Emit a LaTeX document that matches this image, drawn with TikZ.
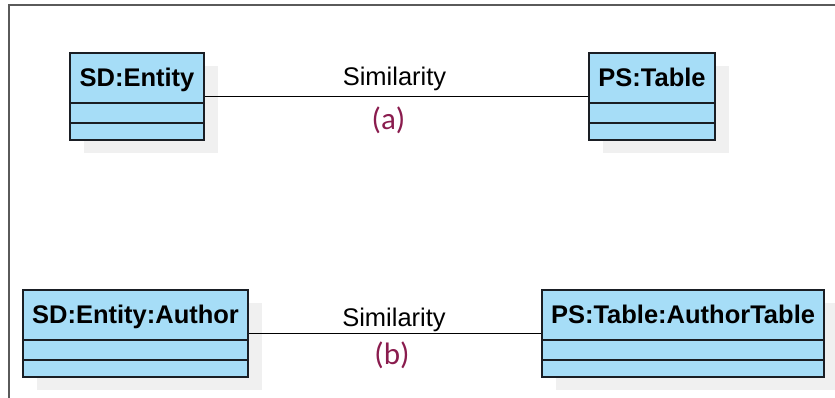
\documentclass[tikz,border=0pt]{standalone}
\usepackage{fontspec}
\setmainfont{Liberation Sans}
\newfontfamily\labfont{Carlito}
\usetikzlibrary{calc,shadows}
\definecolor{boxfill}{RGB}{166,221,247}
\definecolor{boxline}{RGB}{26,30,36}
\definecolor{shadowgray}{RGB}{240,240,240}
\definecolor{labred}{RGB}{138,28,78}
\definecolor{framegray}{RGB}{90,90,90}
\tikzset{
  classbox/.style={draw=boxline, line width=2pt, fill=boxfill, inner sep=0pt,
    minimum height=87pt,
    drop shadow={shadow xshift=14pt, shadow yshift=-13pt, fill=shadowgray, opacity=1}},
  divider/.style={draw=boxline, line width=2pt},
  hdr/.style={font=\bfseries\fontsize{25.5}{30}\selectfont, anchor=base, inner sep=0pt},
  rel/.style={draw=black, line width=1.7pt},
  simlab/.style={font=\fontsize{25.5}{30}\selectfont, anchor=base, inner sep=0pt},
  tag/.style={font=\labfont\fontsize{31}{36}\selectfont, text=labred, inner sep=0pt},
  frame/.style={draw=framegray, line width=1.4pt}
}
\begin{document}
\begin{tikzpicture}[x=1pt,y=-1pt]
\useasboundingbox (0,0) rectangle (835,398);
% frame
\coordinate (fl) at (9,398);
\coordinate (fc) at (9,5);
\coordinate (fr) at (835,5);
\draw[frame] (fl) -- (fc) -- (fr);
% boxes
\node[classbox, minimum width=134pt] (e1) at (137,96.5) {};
\node[classbox, minimum width=126pt] (t1) at (652,96.5) {};
\node[classbox, minimum width=225pt] (e2) at (135.5,333.5) {};
\node[classbox, minimum width=282pt] (t2) at (683,333.5) {};
\foreach \b in {e1,t1,e2,t2}{
  \draw[divider] ($(\b.north west)!0.568!(\b.south west)$) -- ($(\b.north east)!0.568!(\b.south east)$);
  \draw[divider] ($(\b.north west)!0.793!(\b.south west)$) -- ($(\b.north east)!0.793!(\b.south east)$);
}
\node[hdr] (e1h) at ($(e1.north)!0.39!(e1.south)$) {SD:Entity};
\node[hdr] (t1h) at ($(t1.north)!0.39!(t1.south)$) {PS:Table};
\node[hdr] (e2h) at ($(e2.north)!0.385!(e2.south)$) {SD:Entity:Author};
\node[hdr] (t2h) at ($(t2.north)!0.385!(t2.south)$) {PS:Table:AuthorTable};
% relations
\draw[rel] (e1.east) -- node[simlab, pos=0.5, yshift=10.5pt, xshift=-2pt] (s1) {Similarity}
  node[tag, pos=0.5, yshift=-24pt, xshift=-8pt] (a1) {(a)} (t1.west);
\draw[rel] (e2.east) -- node[simlab, pos=0.5, yshift=7pt, xshift=-1pt] (s2) {Similarity}
  node[tag, pos=0.5, yshift=-22pt, xshift=-3pt] (b2) {(b)} (t2.west);
\end{tikzpicture}
\end{document}
